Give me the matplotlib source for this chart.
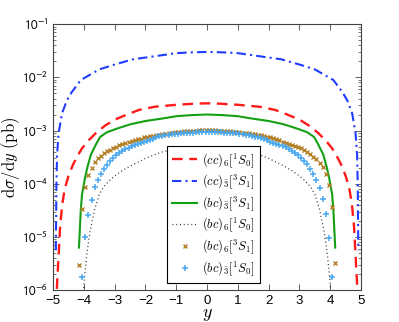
import numpy as np
import matplotlib
matplotlib.use("Agg")
import matplotlib.pyplot as plt
from matplotlib.font_manager import FontProperties
from matplotlib.ticker import LogLocator, FuncFormatter

plt.rcParams['font.family'] = ['Liberation Sans', 'DejaVu Sans']
plt.rcParams['mathtext.fontset'] = 'stixsans'

# (cc)_6[1S0]  red dashed
red_x = [-4.90, -4.87, -4.82, -4.77, -4.70, -4.62, -4.50, -4.35, -4.20, -4.05, -3.85, -3.60,
         -3.30, -3.00, -2.60, -2.20, -1.70, -1.00, -0.40, 0.00, 0.40, 1.00, 1.70, 2.20, 2.60,
         3.00, 3.30, 3.60, 3.85, 4.05, 4.20, 4.35, 4.50, 4.62, 4.70, 4.77, 4.82, 4.87, 4.90]
red_v = [5.0e-7, 1.3e-6, 4.5e-6, 1.6e-5, 4.2e-5, 8.0e-5, 1.4e-4, 2.3e-4, 3.4e-4, 4.7e-4, 6.5e-4, 9.1e-4,
         1.25e-3, 1.6e-3, 2.0e-3, 2.45e-3, 2.8e-3, 3.05e-3, 3.2e-3, 3.25e-3, 3.2e-3, 3.05e-3, 2.8e-3, 2.45e-3, 2.0e-3,
         1.6e-3, 1.25e-3, 9.1e-4, 6.5e-4, 4.7e-4, 3.4e-4, 2.3e-4, 1.4e-4, 8.0e-5, 4.2e-5, 1.6e-5, 4.5e-6, 1.3e-6, 5.0e-7]

# (cc)_3[3S1]  blue dash-dot
blue_x = [-4.91, -4.90, -4.89, -4.87, -4.82, -4.71, -4.55, -4.40, -4.10, -3.50, -3.00, -2.40, -1.90,
          -1.00, -0.50, 0.00, 0.50, 1.00, 1.90, 2.40, 3.00, 3.50, 4.10, 4.40, 4.55, 4.71, 4.82, 4.87,
          4.89, 4.90, 4.91]
blue_v = [5.6e-6, 2.5e-5, 1.0e-4, 3.5e-4, 8.9e-4, 2.1e-3, 3.7e-3, 5.2e-3, 8.9e-3, 1.41e-2, 1.74e-2, 2.19e-2, 2.4e-2,
          2.85e-2, 2.95e-2, 3.0e-2, 2.95e-2, 2.85e-2, 2.4e-2, 2.19e-2, 1.74e-2, 1.41e-2, 8.9e-3, 5.2e-3, 3.7e-3, 2.1e-3, 8.9e-4, 3.5e-4,
          1.0e-4, 2.5e-5, 5.6e-6]

# (bc)_3[3S1]  green solid
green_x = [-4.16, -4.10, -4.06, -3.96, -3.88, -3.77, -3.60, -3.47, -3.25, -2.90, -2.47, -2.00, -1.40,
           -1.00, -0.50, 0.00, 0.50, 1.00, 1.40, 2.00, 2.47, 2.90, 3.25, 3.47, 3.60, 3.77, 3.88, 3.96,
           4.06, 4.10, 4.16]
green_v = [6.3e-6, 3.2e-5, 6.3e-5, 1.32e-4, 2.1e-4, 3.55e-4, 5.6e-4, 7.6e-4, 9.3e-4, 1.1e-3, 1.32e-3, 1.51e-3, 1.7e-3,
           1.86e-3, 1.95e-3, 2.0e-3, 1.95e-3, 1.86e-3, 1.7e-3, 1.51e-3, 1.32e-3, 1.1e-3, 9.3e-4, 7.6e-4, 5.6e-4, 3.55e-4, 2.1e-4, 1.32e-4,
           6.3e-5, 3.2e-5, 6.3e-6]

# (bc)_6[1S0]  black dotted
dot_x = [-4.03, -3.97, -3.90, -3.80, -3.65, -3.50, -3.35, -3.10, -2.80, -2.50, -2.00, -1.50, -1.00,
         -0.50, 0.00, 0.50, 1.00, 1.50, 2.00, 2.50, 2.80, 3.10, 3.35, 3.50, 3.65, 3.80, 3.90, 3.97, 4.03]
dot_v = [7.9e-7, 2.0e-6, 5.0e-6, 1.26e-5, 3.3e-5, 6.3e-5, 8.9e-5, 1.26e-4, 1.7e-4, 2.14e-4, 3.0e-4, 3.9e-4, 4.6e-4,
         4.9e-4, 5.0e-4, 4.9e-4, 4.6e-4, 3.9e-4, 3.0e-4, 2.14e-4, 1.7e-4, 1.26e-4, 8.9e-5, 6.3e-5, 3.3e-5, 1.26e-5, 5.0e-6, 2.0e-6, 7.9e-7]

# (bc)_6[3S1]  brown crosses, bins of 0.1 from -4.15 to 4.15
cross_x = np.round(np.arange(-4.15, 4.16, 0.1), 2)
cross_v = [3.0e-6, 3.4e-5, 8.7e-5, 1.45e-4, 2.0e-4, 2.51e-4, 3.02e-4, 3.39e-4, 3.72e-4, 4.07e-4,
           4.37e-4, 4.68e-4, 4.90e-4, 5.25e-4, 5.50e-4, 5.75e-4, 6.03e-4, 6.31e-4, 6.61e-4, 6.92e-4,
           7.08e-4, 7.41e-4, 7.59e-4, 7.76e-4, 7.94e-4, 8.13e-4, 8.32e-4, 8.51e-4, 8.71e-4, 8.91e-4,
           9.12e-4, 9.33e-4, 9.33e-4, 9.55e-4, 9.77e-4, 9.77e-4, 1.0e-3, 1.0e-3, 1.0e-3, 1.02e-3,
           1.02e-3, 1.02e-3,
           1.02e-3, 1.02e-3, 1.01e-3, 1.0e-3, 1.0e-3, 9.9e-4, 9.8e-4, 9.7e-4, 9.55e-4, 9.4e-4,
           9.3e-4, 9.15e-4, 9.0e-4, 8.9e-4, 8.7e-4, 8.5e-4, 8.3e-4, 8.1e-4, 7.9e-4, 7.65e-4,
           7.4e-4, 7.1e-4, 6.8e-4, 6.5e-4, 6.2e-4, 5.95e-4, 5.7e-4, 5.45e-4, 5.2e-4, 4.95e-4,
           4.7e-4, 4.4e-4, 4.0e-4, 3.6e-4, 3.25e-4, 2.9e-4, 2.5e-4, 2.1e-4, 1.55e-4, 9.5e-5,
           3.6e-5, 3.2e-6]

# (bc)_3[1S0]  light blue plus, bins of 0.1 from -4.05 to 4.05
plus_x = np.round(np.arange(-4.05, 4.06, 0.1), 2)
plus_v = [1.8e-6, 1.0e-5, 2.6e-5, 5.0e-5, 8.5e-5, 1.2e-4, 1.51e-4, 1.91e-4, 2.29e-4, 2.69e-4,
          3.09e-4, 3.47e-4, 3.80e-4, 4.17e-4, 4.47e-4, 4.79e-4, 5.13e-4, 5.37e-4, 5.62e-4, 5.89e-4,
          6.17e-4, 6.46e-4, 6.76e-4, 7.08e-4, 7.41e-4, 7.76e-4, 7.94e-4, 8.13e-4, 8.32e-4, 8.51e-4,
          8.71e-4, 8.71e-4, 8.91e-4, 8.91e-4, 9.12e-4, 9.12e-4, 9.12e-4, 9.33e-4, 9.33e-4, 9.33e-4,
          9.33e-4,
          9.3e-4, 9.3e-4, 9.3e-4, 9.3e-4, 9.2e-4, 9.1e-4, 9.1e-4, 9.0e-4, 8.9e-4, 8.8e-4,
          8.7e-4, 8.5e-4, 8.3e-4, 8.1e-4, 7.9e-4, 7.7e-4, 7.4e-4, 7.1e-4, 6.8e-4, 6.5e-4,
          6.2e-4, 5.9e-4, 5.6e-4, 5.35e-4, 5.1e-4, 4.8e-4, 4.5e-4, 4.2e-4, 3.8e-4, 3.45e-4,
          3.1e-4, 2.7e-4, 2.3e-4, 1.9e-4, 1.5e-4, 1.18e-4, 8.3e-5, 5.1e-5, 2.7e-5, 9.5e-6,
          1.8e-6]

labels = [r'$(cc)_6[^1S_0]$', r'$(cc)_{\bar{3}}[^3S_1]$', r'$(bc)_{\bar{3}}[^3S_1]$',
          r'$(bc)_6[^1S_0]$', r'$(bc)_6[^3S_1]$', r'$(bc)_{\bar{3}}[^1S_0]$']

fig = plt.figure(figsize=(3.99, 3.22), dpi=100)
ax = fig.add_axes([0.133, 0.099, 0.772, 0.826])

h1, = ax.plot(red_x, red_v, color='#ff1a1a', lw=1.7, dashes=(4.5, 2.8))
h2, = ax.plot(blue_x, blue_v, color='#1f3cff', lw=1.5, dashes=(4.5, 2, 1, 2))
h3, = ax.plot(green_x, green_v, color='#14a014', lw=1.5)
h4, = ax.plot(dot_x, dot_v, color='#333333', lw=0.9, dashes=(0.8, 2.2))
h5, = ax.plot(cross_x, cross_v, ls='none', marker='x', ms=3.2, mew=1.0, color='#b5822a')
h6, = ax.plot(plus_x, plus_v, ls='none', marker='+', ms=4.6, mew=1.1, color='#49a8f0')

ax.set_yscale('log')
ax.set_xlim(-5, 5)
ax.set_ylim(1e-6, 1e-1)
ax.set_xticks(range(-5, 6))
ax.yaxis.set_major_locator(LogLocator(base=10, numticks=10))
ax.yaxis.set_minor_locator(LogLocator(base=10, subs=np.arange(2, 10), numticks=20))
ax.yaxis.set_major_formatter(FuncFormatter(lambda v, p: r'$10^{%d}$' % int(round(np.log10(v)))))

for s in ax.spines.values():
    s.set_color('#444444')
    s.set_linewidth(0.8)
ax.tick_params(which='both', direction='in', top=True, right=True, colors='#444444',
               labelcolor='black', labelsize=9.5)
ax.tick_params(which='major', length=4, width=0.6)
ax.tick_params(which='minor', length=2, width=0.5)

ax.set_xlabel(r'$y$', fontproperties=FontProperties(size=13, math_fontfamily='cm'), labelpad=-1)
ax.set_ylabel(r'$\mathrm{d}\sigma/\mathrm{d}y\ \mathrm{(pb)}$',
              fontproperties=FontProperties(size=12, math_fontfamily='cm'), labelpad=0)

leg = ax.legend([h1, h2, h3, h4, h5, h6], labels, prop=FontProperties(size=9, math_fontfamily='cm'),
                loc='lower left', bbox_to_anchor=(0.371, 0.028), frameon=True, fancybox=False,
                handlelength=2.0, handletextpad=0.4, labelspacing=0.24, borderpad=0.4,
                borderaxespad=0)
leg.get_frame().set_edgecolor('black')
leg.get_frame().set_linewidth(0.8)
leg.get_frame().set_alpha(1)

fig.savefig('out.png', dpi=100)
